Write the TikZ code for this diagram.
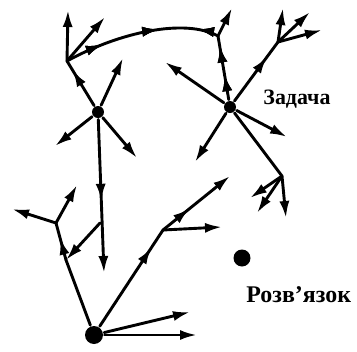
\documentclass[tikz,border=0pt]{standalone}
\usepackage{fontspec}
\setmainfont{Liberation Serif}
\usetikzlibrary{arrows.meta,decorations.markings}

\tikzset{
    tipshape/.tip={Latex[length=17bp,width=10bp]},
    dot/.style={circle, fill, inner sep=0pt, minimum size=#1},
    arr/.style={-tipshape},
    midtip/.style={postaction={decorate},
        decoration={markings, mark=at position #1 with {\arrow{tipshape}}}},
    midback/.style={postaction={decorate},
        decoration={markings, mark=at position #1 with {\arrowreversed{tipshape}}}},
    lbl/.style={font=\fontsize{#1}{24}\selectfont\bfseries, inner sep=0pt}
}

\begin{document}
\begin{tikzpicture}[x=1bp, y=-1bp, line width=2.9bp, line cap=round, line join=round]
    \useasboundingbox (0,0) rectangle (357,352);

    % Start, goal and the two crossing points
    \node[dot=18bp] (S) at (94,335) {};
    \node[dot=17bp] (G) at (242,258) {};
    \node[dot=12bp] (A) at (98,112) {};
    \node[dot=12bp] (Z) at (230,107) {};

    % Labels
    \node[lbl=22, anchor=base west] (zlabel) at (262,104) {Задача};
    \node[lbl=24, anchor=base west] (glabel) at (245,302) {Розв’язок};

    % Branch points
    \coordinate (J1) at (66,260);
    \coordinate (J2) at (56,223);
    \coordinate (J3) at (163,230);
    \coordinate (J4) at (67,61);
    \coordinate (J5) at (218,36);
    \coordinate (J6) at (282,176);
    \coordinate (J7) at (278,42);
    \coordinate (B)  at (100,223);

    % Free ends
    \coordinate (s1) at (190,312);
    \coordinate (s2) at (197,335);
    \coordinate (j2a) at (12,209);
    \coordinate (j2b) at (77,185);
    \coordinate (j3a) at (230,176);
    \coordinate (j3b) at (222,227);
    \coordinate (av) at (104,273);
    \coordinate (a1) at (55,146);
    \coordinate (a2) at (137,158);
    \coordinate (a3) at (123,58);
    \coordinate (j4a) at (68,10);
    \coordinate (j4b) at (105,17);
    \coordinate (j5a) at (232,8);
    \coordinate (z1) at (165,62);
    \coordinate (z2) at (195,162);
    \coordinate (z3) at (287,137);
    \coordinate (j6a) at (250,198);
    \coordinate (j6b) at (257,213);
    \coordinate (j6c) at (286,218);
    \coordinate (j7a) at (283,8);
    \coordinate (j7b) at (310,12);
    \coordinate (j7c) at (322,30);

    % Lower part
    \draw (S) -- (J1);
    \draw[midtip=0.6] (J1) -- (J2);
    \foreach \e in {j2a,j2b} \draw[arr] (J2) -- (\e);
    \draw[arr] (B) -- (J1);
    \draw[midtip=0.82] (S) -- (J3);
    \draw[arr, midtip=0.4] (J3) -- (j3a);
    \draw[arr] (J3) -- (j3b);
    \foreach \e in {s1,s2} \draw[arr] (S) -- (\e);

    % Left cross
    \draw[arr, midtip=0.53] (A) -- (av);
    \foreach \e in {a1,a2,a3} \draw[arr] (A) -- (\e);
    \draw[midtip=0.8] (A) -- (J4);
    \foreach \e in {j4a,j4b} \draw[arr] (J4) -- (\e);
    \draw[midtip=0.25, midtip=0.62, midback=0.86]
        (J4) .. controls (120,32) and (185,18) .. (J5);
    \draw[arr] (J5) -- (j5a);

    % Right cross
    \draw[midtip=0.4, midtip=0.85] (Z) -- (J5);
    \foreach \e in {z1,z2,z3} \draw[arr] (Z) -- (\e);
    \draw (Z) -- (J6);
    \foreach \e in {j6a,j6b,j6c} \draw[arr] (J6) -- (\e);
    \draw[midtip=0.75] (Z) -- (J7);
    \foreach \e in {j7a,j7b,j7c} \draw[arr] (J7) -- (\e);
\end{tikzpicture}
\end{document}
